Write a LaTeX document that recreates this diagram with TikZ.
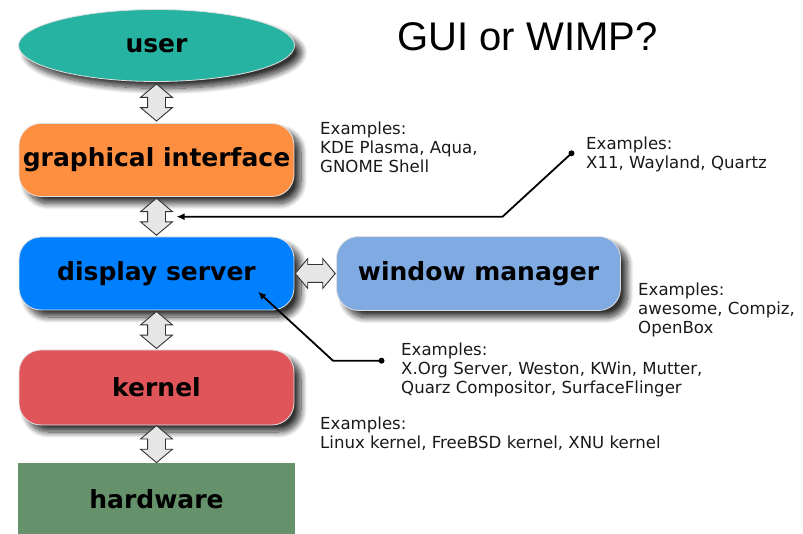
\documentclass[tikz,border=0pt]{standalone}
\usepackage{fontspec}
\setmainfont{DejaVu Sans}
\newfontfamily\titlefont{Liberation Sans}
\usetikzlibrary{shapes.geometric,shapes.arrows,shadows.blur,arrows.meta,calc}

\definecolor{userteal}{HTML}{26B3A1}
\definecolor{guiorange}{HTML}{FF8F40}
\definecolor{dspblue}{HTML}{0080FF}
\definecolor{wmblue}{HTML}{80AAE2}
\definecolor{kernred}{HTML}{E0555A}
\definecolor{hwgreen}{HTML}{65926B}
\definecolor{arrowgray}{HTML}{E6E6E6}

\tikzset{
  layer/.style={draw=white!88!black, line width=0.8pt, inner sep=0pt,
    font=\fontsize{25}{28}\selectfont\bfseries,
    blur shadow={shadow xshift=7pt, shadow yshift=-7pt, shadow blur steps=12,
      shadow blur radius=6pt, shadow opacity=80}},
  roundbox/.style={layer, rectangle, rounded corners=22pt},
  vlink/.style={double arrow, draw=black!80, fill=arrowgray, line width=0.9pt,
    inner xsep=0pt, inner ysep=8.5pt, double arrow head extend=7pt,
    double arrow tip angle=100, rotate=90},
  hlink/.style={double arrow, draw=black!80, fill=arrowgray, line width=0.9pt,
    inner xsep=0pt, inner ysep=8.5pt, double arrow head extend=6pt,
    double arrow tip angle=100},
  examples/.style={anchor=north west, inner sep=0pt, align=left,
    font=\fontsize{16.6}{19}\selectfont, text=black!90},
  pointer/.style={draw=black, line width=1.8pt, -{Latex[length=8pt,width=7pt]}},
}

\begin{document}
\begin{tikzpicture}[x=1pt,y=-1pt]
  \useasboundingbox (0,0) rectangle (803,534);

  % layers of the stack
  \node[layer, ellipse, fill=userteal, minimum width=276pt, minimum height=72pt]
    (user) at (156.5,45.5) {user};
  \node[roundbox, fill=guiorange, minimum width=275pt, minimum height=73pt]
    (gui) at (156.5,160) {graphical interface};
  \node[roundbox, fill=dspblue, minimum width=275pt, minimum height=73pt]
    (dsp) at (156.5,273.5) {display server};
  \node[roundbox, fill=wmblue, minimum width=284pt, minimum height=74pt]
    (wm) at (478.5,273.5) {window manager};
  \node[roundbox, fill=kernred, minimum width=275pt, minimum height=75pt]
    (kern) at (156.5,387.5) {kernel};
  \node[draw=none, fill=hwgreen, minimum width=277pt, minimum height=72pt,
    inner sep=0pt, font=\fontsize{25}{28}\selectfont\bfseries]
    (hw) at (156.5,499) {hardware};

  % interfaces between the layers
  \node[vlink, minimum height=37pt] (ug) at ($(user.south)!0.5!(gui.north)$) {};
  \node[vlink, minimum height=37pt] (gd) at ($(gui.south)!0.5!(dsp.north)$) {};
  \node[vlink, minimum height=37pt] (dk) at ($(dsp.south)!0.5!(kern.north)$) {};
  \node[vlink, minimum height=37pt] (kh) at ($(kern.south)!0.5!(hw.north)$) {};
  \node[hlink, minimum height=40pt] (dw) at ($(dsp.east)!0.5!(wm.west)$) {};

  % title
  \node[font=\titlefont\fontsize{40}{42}\selectfont, inner sep=0pt]
    (title) at (527.5,36.5) {GUI or WIMP?};

  % example annotations
  \node[examples] (exgui) at (320,121.5)
    {Examples:\\KDE Plasma, Aqua,\\GNOME Shell};
  \node[examples] (exproto) at (586,136.5)
    {Examples:\\X11, Wayland, Quartz};
  \node[examples] (exwm) at (638,282.5)
    {Examples:\\awesome, Compiz,\\OpenBox};
  \node[examples] (exdsp) at (401,342.5)
    {Examples:\\X.Org Server, Weston, KWin, Mutter,\\Quarz Compositor, SurfaceFlinger};
  \node[examples] (exkern) at (320,416.5)
    {Examples:\\Linux kernel, FreeBSD kernel, XNU kernel};

  % pointers from the annotations
  \coordinate (protodot) at (571.5,153.3);
  \coordinate (protobend) at (502.5,216.7);
  \coordinate (prototip) at ($(gd.center)+(20,0)$);
  \draw[pointer] (protodot) -- (protobend) -- (protobend -| prototip);
  \fill (protodot) circle (3pt);

  \coordinate (dspdot) at (381.5,360.7);
  \coordinate (dspbend) at (333,360.7);
  \coordinate (dsptip) at (258,291.7);
  \draw[pointer] (dspdot) -- (dspbend) -- (dsptip);
  \fill (dspdot) circle (3pt);
\end{tikzpicture}
\end{document}
